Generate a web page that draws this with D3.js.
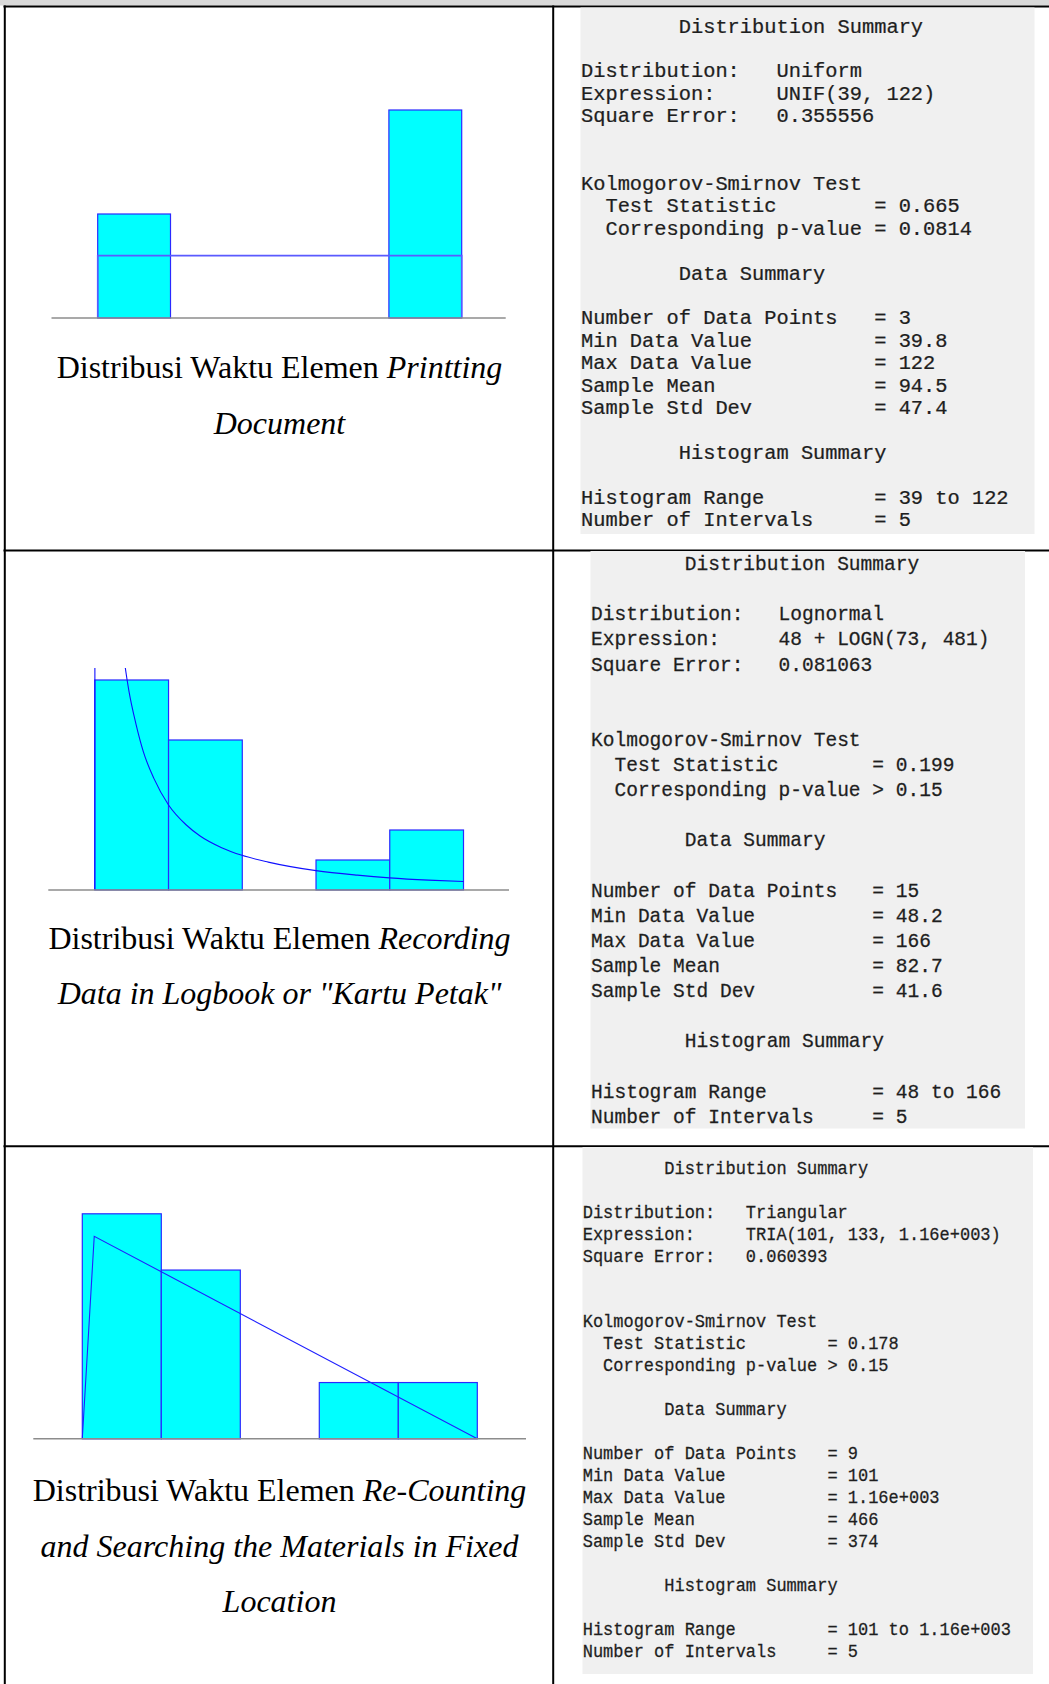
<!DOCTYPE html>
<html>
<head>
<meta charset="utf-8">
<script src="https://cdn.jsdelivr.net/npm/d3@7"></script>
<style>
  html, body { margin: 0; padding: 0; background: #fff; }
  svg { display: block; }
  .mono { font-family: "Liberation Mono", "Courier New", monospace; white-space: pre; fill: #1e1e1e; }
  .cap { font-family: "Liberation Serif", "Times New Roman", serif; font-size: 32px; fill: #000; }
</style>
</head>
<body>
<div id="chart"></div>
<script>
// ---------- data ----------
const intervalCount = 5;

// Printing Document: uniform fit
const printingRange = [39, 122];
const printingCounts = [1, 0, 0, 0, 2];
const printingFitX = [39, 39, 122, 122];
const printingFitY = [0, 0.2, 0.2, 0];

// Recording Data: lognormal fit (relative frequency per interval)
const recordingRange = [48, 166];
const recordingCounts = [7, 5, 0, 1, 2];
const recordingFitX = [48, 48.15, 50, 55, 57.75, 58.9, 61.2, 63.5, 66.9, 71.6, 77.2, 81.7, 88.6, 95.1, 103.5, 118.8, 132, 142.3, 154.8, 166];
const recordingFitY = [0, 2.6, 1.4, 0.66, 0.494, 0.443, 0.368, 0.308, 0.248, 0.189, 0.145, 0.12, 0.094, 0.077, 0.062, 0.043, 0.033, 0.027, 0.022, 0.019];

// Re-Counting: triangular fit
const recountRange = [101, 1160];
const recountCounts = [4, 3, 0, 1, 1];
const recountFitX = [101, 133, 1160];
const recountFitY = [0, 0.4, 0];

// Captions (text, italic?)
const captionLines = [
  [[["Distribusi Waktu Elemen ", false], ["Printting", true]], [["Document", true]]],
  [[["Distribusi Waktu Elemen ", false], ["Recording", true]], [["Data in Logbook or \"Kartu Petak\"", true]]],
  [[["Distribusi Waktu Elemen ", false], ["Re-Counting", true]], [["and Searching the Materials in Fixed", true]], [["Location", true]]]
];

// Summary panels
const fitLabels = ["Distribution:", "Expression:", "Square Error:"];
const ksLabels = ["  Test Statistic", "  Corresponding p-value"];
const dataLabels = ["Number of Data Points", "Min Data Value", "Max Data Value", "Sample Mean", "Sample Std Dev"];
const histLabels = ["Histogram Range", "Number of Intervals"];

const printingFit = ["Uniform", "UNIF(39, 122)", "0.355556"];
const printingKS = ["= 0.665", "= 0.0814"];
const printingData = ["3", "39.8", "122", "94.5", "47.4"];
const printingHist = ["39 to 122", "5"];

const recordingFit = ["Lognormal", "48 + LOGN(73, 481)", "0.081063"];
const recordingKS = ["= 0.199", "> 0.15"];
const recordingData = ["15", "48.2", "166", "82.7", "41.6"];
const recordingHist = ["48 to 166", "5"];

const recountFit = ["Triangular", "TRIA(101, 133, 1.16e+003)", "0.060393"];
const recountKS = ["= 0.178", "> 0.15"];
const recountData = ["9", "101", "1.16e+003", "466", "374"];
const recountHist = ["101 to 1.16e+003", "5"];

// ---------- layout ----------
const W = 1049, H = 1684;
const svg = d3.select("#chart").append("svg").attr("width", W).attr("height", H);

const charts = [
  { range: printingRange, counts: printingCounts, fitX: printingFitX, fitY: printingFitY,
    px: [97.7, 461.7], base: 318, top: 110, yMax: 2 / 3, axis: [51.5, 505.7], clip: false, fitW: 1.6, fitColor: "#5a5aff" },
  { range: recordingRange, counts: recordingCounts, fitX: recordingFitX, fitY: recordingFitY,
    px: [94.8, 463.5], base: 890, top: 668, yMax: 0.4933, axis: [48.3, 509], clip: true, fitW: 1.1, fitColor: "#1010ff" },
  { range: recountRange, counts: recountCounts, fitX: recountFitX, fitY: recountFitY,
    px: [82.3, 477.3], base: 1438.8, top: 1213.8, yMax: 4 / 9, axis: [33.3, 526], clip: false, fitW: 1.1, fitColor: "#2020ff" }
];

const captionLayout = [
  { x: 279.5, baselines: [378, 434] },
  { x: 279.5, baselines: [949, 1003.5] },
  { x: 279.5, baselines: [1501, 1556.5, 1612] }
];

const panels = [
  { fit: printingFit, ks: printingKS, data: printingData, hist: printingHist,
    rect: [580.5, 7.5, 454, 526.5], x0: 581, y0: 32.6, step: 22.45, charW: 12.22, cap: 12.6 },
  { fit: recordingFit, ks: recordingKS, data: recordingData, hist: recordingHist,
    rect: [590.5, 551, 434.5, 577.5], x0: 591, y0: 570, step: 25.13, charW: 11.73, cap: 14.0 },
  { fit: recountFit, ks: recountKS, data: recountData, hist: recountHist,
    rect: [582.5, 1147, 450.5, 527], x0: 582.7, y0: 1173.7, step: 21.97, charW: 10.2, cap: 12.1 }
];

// ---------- table frame ----------
svg.append("rect").attr("x", 0).attr("y", 0).attr("width", W).attr("height", 5.5).attr("fill", "#d9d9d9");
const frame = svg.append("g").attr("stroke", "#000").attr("stroke-width", 2);
[6.5, 550.5, 1146.2].forEach(y => frame.append("line").attr("x1", 3.5).attr("x2", W).attr("y1", y).attr("y2", y));
[4.8, 553.2].forEach(x => frame.append("line").attr("x1", x).attr("x2", x).attr("y1", 5.5).attr("y2", H));

// ---------- histograms ----------
const defs = svg.append("defs");
charts.forEach((c, i) => {
  const x = d3.scaleLinear().domain(c.range).range(c.px);
  const y = d3.scaleLinear().domain([0, c.yMax]).range([c.base, c.top]);
  const n = d3.sum(c.counts);
  const step = (c.range[1] - c.range[0]) / intervalCount;
  const bins = c.counts.map((k, j) => ({ x0: c.range[0] + j * step, x1: c.range[0] + (j + 1) * step, f: k / n }))
    .filter(b => b.f > 0);

  const g = svg.append("g");
  g.selectAll("rect.bar").data(bins).join("rect")
    .attr("class", "bar")
    .attr("x", b => x(b.x0))
    .attr("width", b => x(b.x1) - x(b.x0))
    .attr("y", b => y(b.f))
    .attr("height", b => y(0) - y(b.f))
    .attr("fill", "#00ffff")
    .attr("stroke", "#2a2aff")
    .attr("stroke-width", 1.2);

  let fitG = g;
  if (c.clip) {
    const id = "plotclip" + i;
    defs.append("clipPath").attr("id", id).append("rect")
      .attr("x", c.axis[0]).attr("y", c.top).attr("width", c.axis[1] - c.axis[0]).attr("height", c.base - c.top);
    fitG = g.append("g").attr("clip-path", `url(#${id})`);
  }
  const pts = c.fitX.map((v, j) => [v, c.fitY[j]]);
  const line = d3.line().x(d => x(d[0])).y(d => y(d[1]))
    .curve(c.clip ? d3.curveMonotoneX : d3.curveLinear);
  fitG.append("path").attr("d", line(pts))
    .attr("fill", "none").attr("stroke", c.fitColor).attr("stroke-width", c.fitW);

  g.append("line").attr("x1", c.axis[0]).attr("x2", c.axis[1]).attr("y1", c.base).attr("y2", c.base)
    .attr("stroke", "#8c8c8c").attr("stroke-width", 1.5);
});

// ---------- captions ----------
captionLines.forEach((lines, i) => {
  const L = captionLayout[i];
  lines.forEach((segs, j) => {
    const t = svg.append("text").attr("class", "cap").attr("x", L.x).attr("y", L.baselines[j])
      .attr("text-anchor", "middle");
    segs.forEach(([s, it]) => t.append("tspan").attr("font-style", it ? "italic" : "normal").text(s));
  });
});

// ---------- summary panels ----------
const ctx = document.createElement("canvas").getContext("2d");
function capRatio(fs) {
  ctx.font = `${fs}px "Liberation Mono"`;
  const m = ctx.measureText("H");
  return (m.actualBoundingBoxAscent || fs * 0.6) / fs;
}

panels.forEach(p => {
  const lines = [
    "        Distribution Summary", "",
    ...fitLabels.map((l, j) => l.padEnd(16) + p.fit[j]),
    "", "",
    "Kolmogorov-Smirnov Test",
    ...ksLabels.map((l, j) => l.padEnd(24) + p.ks[j]),
    "",
    "        Data Summary", "",
    ...dataLabels.map((l, j) => l.padEnd(24) + "= " + p.data[j]),
    "",
    "        Histogram Summary", "",
    ...histLabels.map((l, j) => l.padEnd(24) + "= " + p.hist[j])
  ];
  svg.append("rect").attr("x", p.rect[0]).attr("y", p.rect[1]).attr("width", p.rect[2]).attr("height", p.rect[3])
    .attr("fill", "#f0f0f0");
  const fs = p.charW / 0.6;
  const sy = p.cap / (fs * capRatio(fs));
  const g = svg.append("g").attr("transform", `translate(${p.x0},${p.y0}) scale(1,${sy})`);
  g.selectAll("text").data(lines).join("text")
    .attr("class", "mono")
    .attr("x", 0)
    .attr("y", (d, j) => j * p.step / sy)
    .attr("font-size", fs)
    .attr("stroke", "#1e1e1e").attr("stroke-width", 0.25)
    .text(d => d);
});
</script>
</body>
</html>
